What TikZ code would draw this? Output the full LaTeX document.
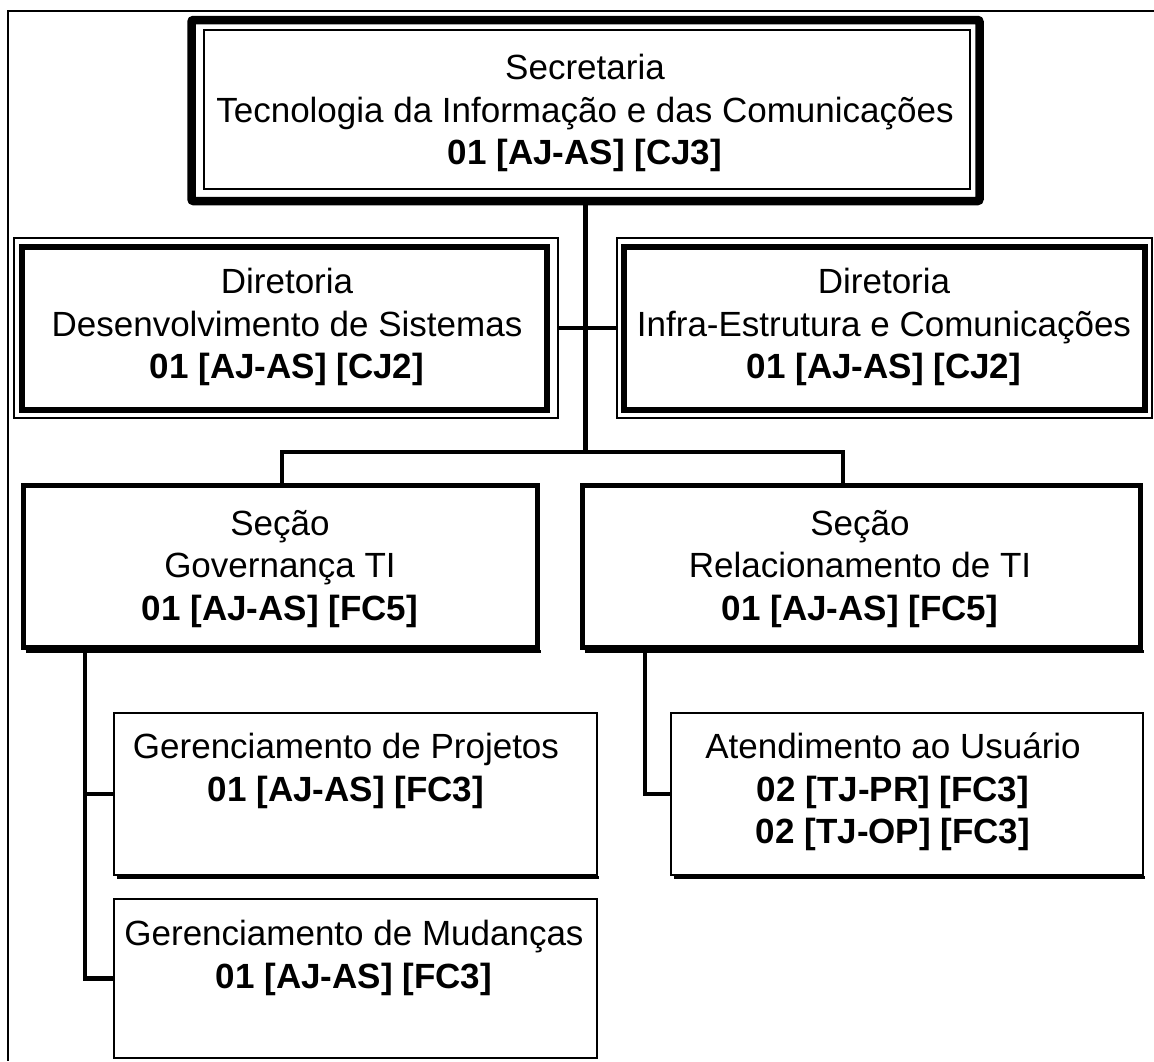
\documentclass[tikz,border=0pt]{standalone}
\usepackage{fontspec}
\setmainfont{Liberation Sans}
\usetikzlibrary{calc}
\begin{document}
\begin{tikzpicture}[x=1pt,y=-1pt,
  box/.style={draw, rectangle, inner sep=0pt, line width=2.5pt},
  link/.style={line width=4.5pt},
  shadowline/.style={line width=2.5pt},
  lbl/.style={align=center, font=\fontsize{35}{42.5}\selectfont, inner sep=0pt}]
\useasboundingbox (0,0) rectangle (1154,1061);
\fill[white] (0,0) rectangle (1154,1061);
% outer frame (partly outside the picture)
\draw[line width=2.5pt] (1154,11) -- (8,11) -- (8,1061);

% top box
\node[box, line width=8.5pt, minimum width=788pt, minimum height=181pt, rounded corners=2pt] (top) at (585.5,110.5) {};
\node[box, line width=2pt, minimum width=766pt, minimum height=159pt] (topin) at (587,109.5) {};

% diretorias
\node[box, line width=2pt, minimum width=544pt, minimum height=180pt] (dlo) at (286,328) {};
\node[box, line width=6pt, minimum width=525pt, minimum height=163pt] (dl) at (284.5,328.5) {};
\node[box, line width=2pt, minimum width=535pt, minimum height=180pt] (dro) at (884.5,328) {};
\node[box, line width=6pt, minimum width=521pt, minimum height=163pt] (dr) at (884.5,328.5) {};

% secoes
\node[box, line width=5pt, minimum width=514pt, minimum height=162pt] (sl) at (280,566) {};
\node[box, line width=5pt, minimum width=558pt, minimum height=162pt] (sr) at (861,566) {};
\draw[shadowline] ($(sl.south west)+(5,1.8)$) -- ($(sl.south east)+(1,1.8)$);
\draw[shadowline] ($(sr.south west)+(5,1.8)$) -- ($(sr.south east)+(1,1.8)$);

% small boxes
\node[box, minimum width=483pt, minimum height=162pt] (gp) at (355.5,794) {};
\node[box, minimum width=483pt, minimum height=159pt] (gm) at (355.5,978.5) {};
\node[box, minimum width=472pt, minimum height=162pt] (at) at (907,794) {};
\draw[shadowline] ($(gp.south west)+(4,1.2)$) -- ($(gp.south east)+(1,1.2)$);
\draw[shadowline] ($(at.south west)+(4,1.2)$) -- ($(at.south east)+(1,1.2)$);

% connectors
\coordinate (bl) at (282,452);
\coordinate (br) at (843,452);
\draw[link] (top.south) -- (top.south |- bl);
\draw[link] (bl |- sl.north) -- (bl) -- (br) -- (br |- sr.north);
\draw[link] (dlo.east) -- (dro.west);
\coordinate (vl) at (85,0);
\draw[link] (vl |- sl.south) -- (vl |- gm.west) -- (gm.west);
\draw[link] (vl |- gp.west) -- (gp.west);
\coordinate (vr) at (645,0);
\draw[link] (vr |- sr.south) -- (vr |- at.west) -- (at.west);

% texts
\node[lbl] (ttop) at (585,113) {Secretaria\\Tecnologia da Informação e das Comunicações\\\textbf{01 [AJ-AS] [CJ3]}};
\node[lbl] (tdl) at (287,327) {Diretoria\\Desenvolvimento de Sistemas\\\textbf{01 [AJ-AS] [CJ2]}};
\node[lbl] (tdr) at (884,327) {Diretoria\\Infra-Estrutura e Comunicações\\\textbf{01 [AJ-AS] [CJ2]}};
\node[lbl] (tsl) at (280,569) {Seção\\Governança TI\\\textbf{01 [AJ-AS] [FC5]}};
\node[lbl] (tsr) at (860,569) {Seção\\Relacionamento de TI\\\textbf{01 [AJ-AS] [FC5]}};
\node[lbl] (tgp) at (346,771) {Gerenciamento de Projetos\\\textbf{01 [AJ-AS] [FC3]}};
\node[lbl] (tgm) at (354,958) {Gerenciamento de Mudanças\\\textbf{01 [AJ-AS] [FC3]}};
\node[lbl] (tat) at (893,792) {Atendimento ao Usuário\\\textbf{02 [TJ-PR] [FC3]}\\\textbf{02 [TJ-OP] [FC3]}};
\end{tikzpicture}
\end{document}
